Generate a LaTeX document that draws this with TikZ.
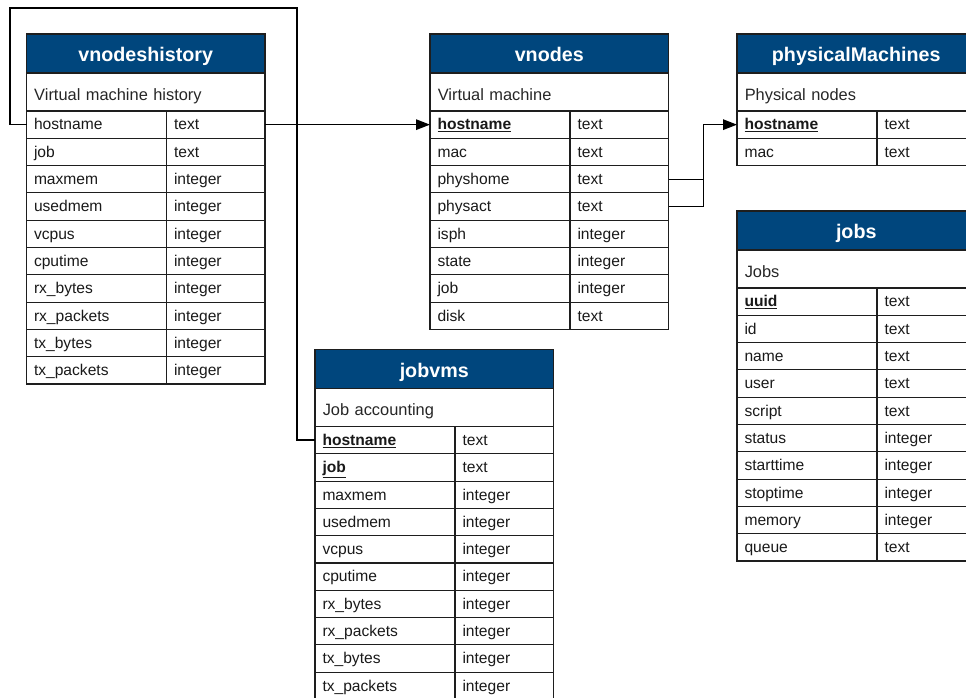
\documentclass[tikz,border=0pt]{standalone}
\usepackage{fontspec}
\setmainfont{Liberation Sans}
\usetikzlibrary{calc,arrows.meta}
\definecolor{hdrblue}{RGB}{0,70,125}
\definecolor{linec}{RGB}{30,30,30}
\newcommand{\keyf}[1]{\underline{\textbf{#1}}}
\newcommand{\dbtab}[6]{%
  \node[hdrbox, anchor=north west] (#1-h) at (#2,#3) {#4};
  \node[descbox, anchor=north west] (#1-d) at (#1-h.south west) {#5};
  \foreach \a/\b [count=\i] in {#6} {
    \node[cella, anchor=north west] (#1-\i a) at ($(#1-d.south west)+(0,{(\i-1)*27.3})$) {\a};
    \node[cellb, anchor=west] (#1-\i b) at (#1-\i a.east) {\b};
  }
}
\begin{document}
\begin{tikzpicture}[x=1pt,y=-1pt,
  every node/.style={draw=linec, line width=1.1pt, inner sep=0pt, outer sep=0pt},
  hdrbox/.style={fill=hdrblue, text=white, font=\fontsize{19.7}{20}\selectfont\bfseries,
    minimum width=238.5pt, minimum height=39pt, text height=16pt, text depth=0pt, align=center},
  descbox/.style={minimum width=238.5pt, minimum height=38pt, text width=223pt, inner xsep=7.75pt,
    align=left, text height=16.5pt, text depth=0pt, font=\fontsize{16.4}{17}\selectfont, text=black!85},
  cella/.style={minimum width=140pt, minimum height=27.3pt, text width=125pt, inner xsep=7.5pt,
    align=left, text height=12pt, text depth=1.5pt, font=\fontsize{15.6}{16}\selectfont, text=black!90},
  cellb/.style={cella, minimum width=98.5pt, text width=83.5pt},
  conn/.style={draw=black, line width=1.4pt},
  arr/.style={conn, -{Triangle[length=14pt,width=10.5pt]}}
]
\useasboundingbox (0,0) rectangle (966,697);
\clip (0,0) rectangle (966,697);

\dbtab{vh}{26.5}{34}{vnodeshistory}{Virtual machine history}{hostname/text, job/text, maxmem/integer, usedmem/integer, vcpus/integer, cputime/integer, rx\_bytes/integer, rx\_packets/integer, tx\_bytes/integer, tx\_packets/integer}

\dbtab{vn}{430}{34}{vnodes}{Virtual machine}{\keyf{hostname}/text, mac/text, physhome/text, physact/text, isph/integer, state/integer, job/integer, disk/text}

\dbtab{pm}{737}{34}{physicalMachines}{Physical nodes}{\keyf{hostname}/text, mac/text}

\dbtab{jb}{737}{211}{jobs}{Jobs}{\keyf{uuid}/text, id/text, name/text, user/text, script/text, status/integer, starttime/integer, stoptime/integer, memory/integer, queue/text}

\dbtab{jv}{315}{349.5}{jobvms}{Job accounting}{\keyf{hostname}/text, \keyf{job}/text, maxmem/integer, usedmem/integer, vcpus/integer, cputime/integer, rx\_bytes/integer, rx\_packets/integer, tx\_bytes/integer, tx\_packets/integer}

\coordinate (bendL) at (10,8);
\coordinate (bendR) at (297,8);
\draw[conn] (vh-1a.west) -| (bendL) -- (bendR) |- (jv-1a.west);
\draw[arr] (vh-1b.east) -- (vn-1a.west);

\coordinate (jn) at ($(vn-3b.east)+(35,0)$);
\draw[arr] (vn-3b.east) -- (jn) |- (pm-1a.west);
\draw[conn] (vn-4b.east) -| (jn);
\end{tikzpicture}
\end{document}
